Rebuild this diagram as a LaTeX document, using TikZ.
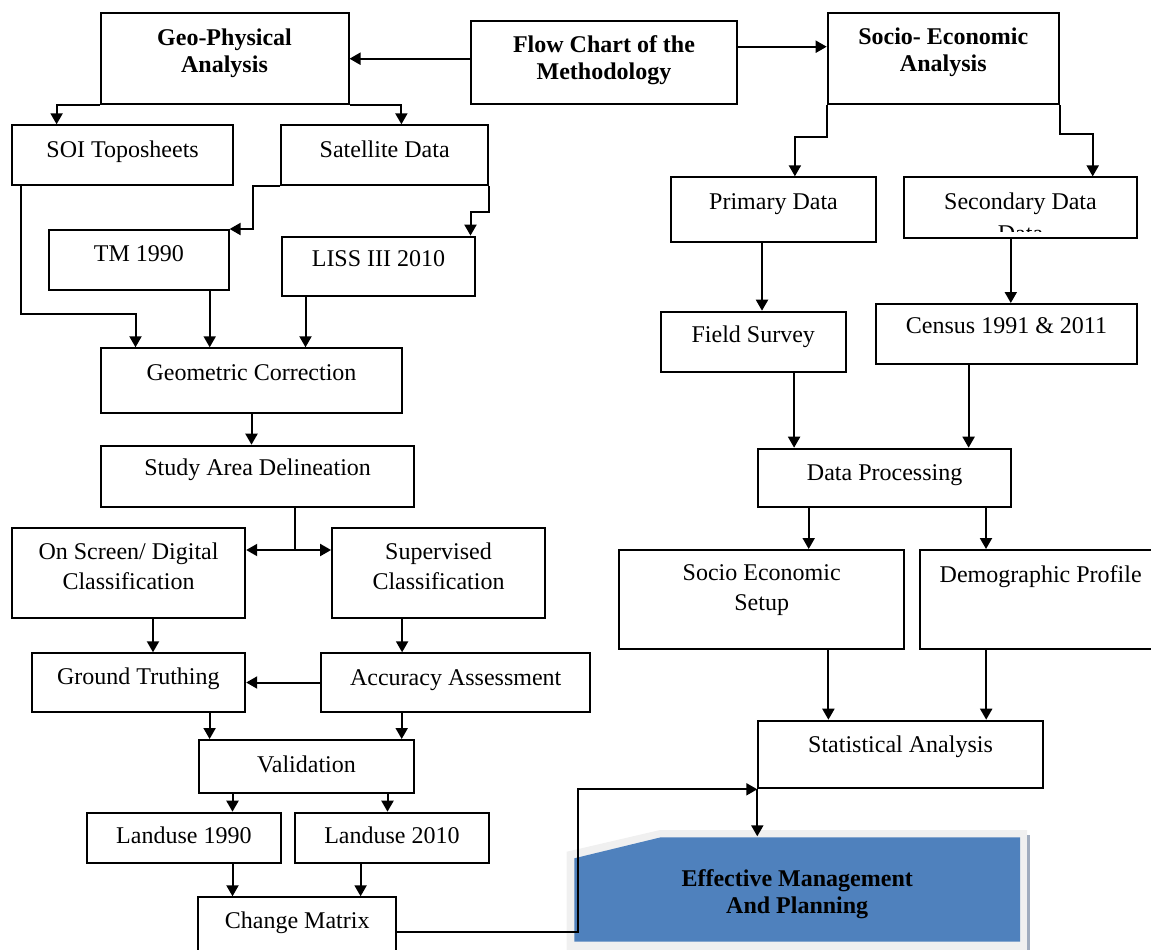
\documentclass[tikz,border=0pt]{standalone}
\usepackage{fontspec}
\setmainfont{Liberation Serif}
\usetikzlibrary{arrows.meta}

\definecolor{planblue}{RGB}{79,129,189}
\definecolor{planframe}{RGB}{240,240,240}
\definecolor{planedge}{RGB}{160,172,190}

% text of a box, raised a little inside its frame
\newcommand{\boxlbl}[2]{\raisebox{#1}[\height][\depth]{\begin{tabular}{@{}c@{}}#2\end{tabular}}}

\tikzset{
  box/.style 2 args={draw, minimum width=#1, minimum height=#2, inner sep=0pt,
    font=\fontsize{12pt}{15pt}\selectfont},
  head/.style={font=\bfseries\fontsize{12pt}{13.5pt}\selectfont},
}

\begin{document}
\begin{tikzpicture}[x=0.5pt, y=-0.5pt, line width=1pt, >={Triangle[length=5.5pt,width=6pt]}]
        \clip (0,0) rectangle (1151,949);

        % the blue box at the bottom
        \fill[planframe] (566.7,960) -- (566.7,851.7) -- (660,830) -- (1027,830) -- (1027,960) -- cycle;
        \fill[planedge] (1027,835) rectangle (1030,960);
        \fill[planblue] (574.3,941.7) -- (574.3,858.3) -- (660.8,837.3) -- (1020,837.3) -- (1020,941.7) -- cycle;

        % top row
        \node [box={124pt}{45.3pt}, head] (geo) at (224.5,58.7) {\boxlbl{2.7pt}{Geo-Physical\\Analysis}};
        \node [box={133.3pt}{41.7pt}, head] (flow) at (604,62.3) {\boxlbl{0.75pt}{Flow Chart of the\\Methodology}};
        \node [box={115.6pt}{45.3pt}, head] (socio) at (943.3,58.7) {\boxlbl{2.85pt}{Socio- Economic\\Analysis}};

        % geo-physical side
        \node [box={110.4pt}{30pt}] (soi) at (122.6,155.3) {\boxlbl{1.95pt}{SOI Toposheets}};
        \node [box={103.6pt}{30pt}] (sat) at (384.7,155.3) {\boxlbl{1.95pt}{Satellite Data}};
        \node [box={89.7pt}{30pt}] (tm) at (138.9,260) {\boxlbl{2.4pt}{TM 1990}};
        \node [box={96.2pt}{29.7pt}] (liss) at (378.5,266.3) {\boxlbl{2.7pt}{LISS III 2010}};
        \node [box={150.2pt}{32.2pt}] (geom) at (251.5,380.5) {\boxlbl{3.05pt}{Geometric Correction}};
        \node [box={156.4pt}{30.8pt}] (study) at (257.6,476.5) {\boxlbl{3.3pt}{Study Area Delineation}};
        \node [box={116.7pt}{44.7pt}] (onscr) at (128.5,573) {\boxlbl{2.2pt}{On Screen/ Digital\\Classification}};
        \node [box={106.4pt}{44.7pt}] (sup) at (438.5,573) {\boxlbl{2.2pt}{Supervised\\Classification}};
        \node [box={106.8pt}{29.2pt}] (ground) at (138.4,682.5) {\boxlbl{1.95pt}{Ground Truthing}};
        \node [box={134.6pt}{29.2pt}] (acc) at (455.7,682.5) {\boxlbl{1.45pt}{Accuracy Assessment}};
        \node [box={107.5pt}{26.7pt}] (valid) at (306.5,766.7) {\boxlbl{0pt}{Validation}};
        \node [box={96.8pt}{25pt}] (land90) at (183.9,837.7) {\boxlbl{0pt}{Landuse 1990}};
        \node [box={96.8pt}{25pt}] (land10) at (391.9,837.7) {\boxlbl{0pt}{Landuse 2010}};
        \node [box={98.85pt}{29.7pt}] (change) at (297.2,927) {\boxlbl{2.05pt}{Change Matrix}};

        % socio-economic side
        \node [box={102.5pt}{32.5pt}] (prim) at (773.5,209.8) {\boxlbl{3.3pt}{Primary Data}};
        \node [box={116.7pt}{30.3pt}] (sec) at (1020.5,207.7) {\boxlbl{1.9pt}{Secondary Data}};
        \node [box={92.5pt}{30pt}] (field) at (753.3,341.7) {\boxlbl{2.4pt}{Field Survey}};
        \node [box={130.7pt}{30pt}] (census) at (1006.5,334) {\boxlbl{3.05pt}{Census 1991 \& 2011}};
        \node [box={126.2pt}{29.3pt}] (dproc) at (884.6,478) {\boxlbl{1.9pt}{Data Processing}};
        \node [box={142.4pt}{49.5pt}] (setup) at (761.7,599.5) {\boxlbl{4.8pt}{Socio Economic\\Setup}};
        \node [box={120.9pt}{49.5pt}] (demo) at (1040.7,599.5) {\boxlbl{11.3pt}{Demographic Profile}};
        \node [box={142.2pt}{33.8pt}] (stat) at (900.5,754.5) {\boxlbl{3.95pt}{Statistical Analysis}};
        \node [head, minimum width=222.8pt, minimum height=52.2pt, inner sep=0pt] (plan) at (797.2,889.5)
            {\boxlbl{-2.35pt}{Effective Management\\And Planning}};

        % second line of the secondary box, cut off by its frame
        \begin{scope}
            \clip (sec.north west) rectangle (1137,231);
            \node [font=\fontsize{12pt}{15pt}\selectfont, inner sep=0pt] (secmore) at (1020.5,234) {Data};
        \end{scope}

        % connectors, left half
        \draw[->] (flow.west |- geo.east) -- (geo.east);
        \draw[->] (geo.south west) -| ([xshift=-33pt]soi.north);
        \draw[->] (geo.south east) -| ([xshift=8.35pt]sat.north);
        \draw[->] (sat.south west) -| ([xshift=11.5pt]tm.north east) -- (tm.north east);
        \draw[->] (sat.south east) -- ++(0,-12.7pt) -| ([xshift=46pt]liss.north);
        \draw[->] ([xshift=-50.8pt]soi.south) |- ([xshift=-58pt,yshift=16.6pt]geom.north) -- ([xshift=-58pt]geom.north);
        \draw[->] ([xshift=35.4pt]tm.south) -- ([xshift=35.4pt]tm.south |- geom.north);
        \draw[->] ([xshift=-36.5pt]liss.south) -- ([xshift=-36.5pt]liss.south |- geom.north);
        \draw[->] (geom.south) -- (geom.south |- study.north);
        \coordinate (fork) at (295.4,550);
        \draw (fork |- study.south) -- (fork);
        \draw[->] (fork) -- (fork -| onscr.east);
        \draw[->] (fork) -- (fork -| sup.west);
        \draw[->] ([xshift=12.25pt]onscr.south) -- ([xshift=12.25pt]onscr.south |- ground.north);
        \draw[->] ([xshift=-18.2pt]sup.south) -- ([xshift=-18.2pt]sup.south |- acc.north);
        \draw[->] (acc.west) -- (ground.east);
        \draw[->] ([xshift=35.6pt]ground.south) -- ([xshift=35.6pt]ground.south |- valid.north);
        \draw[->] ([xshift=-27pt]acc.south) -- ([xshift=-27pt]acc.south |- valid.north);
        \draw[->] ([xshift=24.3pt]land90.north |- valid.south) -- ([xshift=24.3pt]land90.north);
        \draw[->] ([xshift=-2.2pt]land10.north |- valid.south) -- ([xshift=-2.2pt]land10.north);
        \draw[->] ([xshift=24.3pt]land90.south) -- ([xshift=24.3pt]land90.south |- change.north);
        \draw[->] ([xshift=-15.65pt]land10.south) -- ([xshift=-15.65pt]land10.south |- change.north);
        \draw[->] ([yshift=-2.65pt]change.east) -| ([xshift=-89.5pt]stat.south west) -- (stat.south west);
        \draw[->] (stat.south west) -- (stat.south west |- plan.north);

        % connectors, right half
        \draw[->] ([yshift=7.8pt]flow.east) -- ([yshift=7.8pt]flow.east -| socio.west);
        \draw[->] (socio.south west) -- ++(0,-16pt) -| ([xshift=10.7pt]prim.north);
        \draw[->] (socio.south east) -- ++(0,-14.7pt) -| ([xshift=36.1pt]sec.north);
        \draw[->] ([xshift=-5.75pt]prim.south) -- ([xshift=-5.75pt]prim.south |- field.north);
        \draw[->] ([xshift=-4.85pt]sec.south) -- ([xshift=-4.85pt]sec.south |- census.north);
        \draw[->] ([xshift=20.4pt]field.south) -- ([xshift=20.4pt]field.south |- dproc.north);
        \draw[->] ([xshift=-18.95pt]census.south) -- ([xshift=-18.95pt]census.south |- dproc.north);
        \draw[->] ([xshift=-37.95pt]dproc.south) -- ([xshift=-37.95pt]dproc.south |- setup.north);
        \draw[->] ([xshift=50.7pt]dproc.south) -- ([xshift=50.7pt]dproc.south |- demo.north);
        \draw[->] ([xshift=33.35pt]setup.south) -- ([xshift=33.35pt]setup.south |- stat.north);
        \draw[->] ([xshift=-27.25pt]demo.south) -- ([xshift=-27.25pt]demo.south |- stat.north);
    \end{tikzpicture}
\end{document}
